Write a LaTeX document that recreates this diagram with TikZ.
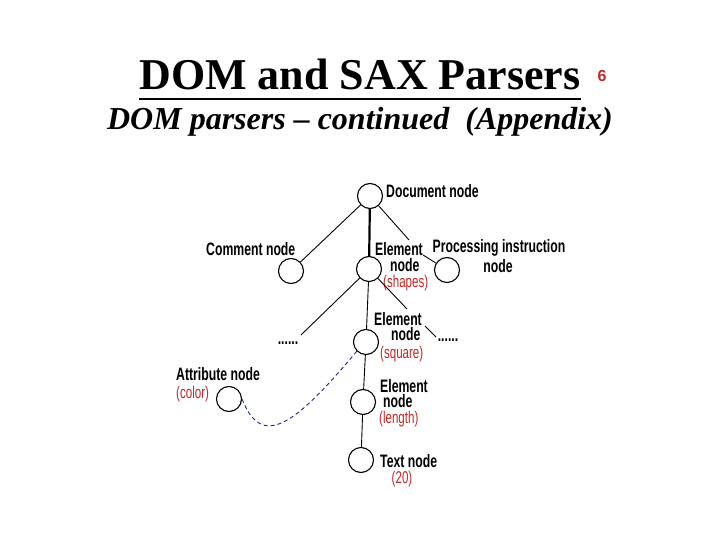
\documentclass[tikz,border=0pt]{standalone}
\usepackage{fontspec}
\usetikzlibrary{calc}
\setmainfont{Liberation Serif}
\newfontfamily\labfont[FakeStretch=0.68]{Liberation Sans}
\newfontfamily\sixfont{Liberation Sans}
\definecolor{labred}{RGB}{190,40,40}
\definecolor{curveblue}{RGB}{30,40,130}
\newcommand\redtxt[1]{{\labfont\mdseries\fontsize{17}{17}\selectfont\color{labred}#1}}
\begin{document}
\begin{tikzpicture}[x=1pt,y=-1pt,
  nd/.style={circle,draw,line width=1.1pt,minimum size=25pt,inner sep=0pt},
  lab/.style={font=\labfont\bfseries\fontsize{18}{18}\selectfont,inner sep=0pt},
  mlab/.style={font=\labfont\bfseries\fontsize{18}{14}\selectfont,inner sep=0pt,align=left,anchor=north west},
  rlab/.style={font=\labfont\fontsize{17}{17}\selectfont,text=labred,inner sep=0pt},
  conn/.style={line width=0.9pt},
  thickconn/.style={line width=2.2pt}]
\useasboundingbox (0,0) rectangle (720,540);
% titles
\node[font=\bfseries\fontsize{44}{44}\selectfont,anchor=base,inner sep=0pt] (title) at (360,90) {DOM and SAX Parsers};
\draw[line width=2.5pt] ($(title.base west)+(0,9)$) -- ($(title.base east)+(0,9)$);
\node[font=\sixfont\bfseries\fontsize{16}{16}\selectfont,text=labred,anchor=base,inner sep=0pt] (six) at (602,82) {6};
\node[font=\bfseries\itshape\fontsize{32}{32}\selectfont,anchor=base,inner sep=0pt] (sub) at (360,130) {DOM parsers -- continued\ \ (Appendix)};
% circles
\node[nd] (doc) at (370,196) {};
\node[nd] (com) at (291,271) {};
\node[nd] (el1) at (369,269) {};
\node[nd] (pi) at (447,270) {};
\node[nd] (el2) at (366,342) {};
\node[nd] (el3) at (363,402) {};
\node[nd] (txt) at (361,460) {};
\node[nd] (att) at (229,399) {};
% labels
\node[lab,anchor=base west] (ldoc) at (386,198) {Document node};
\node[lab,anchor=base west] (lcom) at (206,255) {Comment node};
\node[mlab] (lel1) at (375,242) {Element\\[2pt]\hspace*{15pt}node\\[2pt]\hspace*{8pt}\redtxt{(shapes)}};
\node[lab,anchor=base] (lpia) at (499,252) {Processing instruction};
\node[lab,anchor=base] (lpib) at (498,272) {node};
\node[mlab] (lel2) at (374,312) {Element\\[1pt]\hspace*{17pt}node\\[4pt]\hspace*{6pt}\redtxt{(square)}};
\node[mlab] (lel3) at (379,379) {\hspace*{1pt}Element\\[1pt]\hspace*{4pt}node\\[2pt]\redtxt{(length)}};
\node[lab,anchor=base west] (ltxt) at (380,467) {Text node};
\node[rlab,anchor=base] (ltxtb) at (402,483) {(20)};
\node[lab,anchor=base west] (latt) at (176,380) {Attribute node};
\node[rlab,anchor=base west] (latb) at (176,398) {(color)};
\node[lab,anchor=base] (dotl) at (288,344) {......};
\node[lab,anchor=base] (dotr) at (448,341) {......};
% connectors
\coordinate (g1) at (409,240);
\coordinate (g2) at (423,255);
\coordinate (g3) at (301,335);
\coordinate (g4) at (407,309);
\coordinate (g5) at (425,326);
\coordinate (g6) at (436,337);
\draw[thickconn] (doc) -- (el1);
\draw[conn] (doc) -- (com);
\draw[conn] (doc) -- (g1);
\draw[conn] (g2) -- (pi);
\draw[conn] (el1) -- (g3);
\draw[conn] (el1) -- (g4);
\draw[conn] (g5) -- (g6);
\draw[conn] (el1) -- (el2);
\draw[conn] (el2) -- (el3);
\draw[conn] (el3) -- (txt);
\draw[curveblue,line width=0.9pt,dash pattern=on 4pt off 3pt] (att.east) .. controls (262,450) and (295,425) .. (el2.south west);
\end{tikzpicture}
\end{document}
